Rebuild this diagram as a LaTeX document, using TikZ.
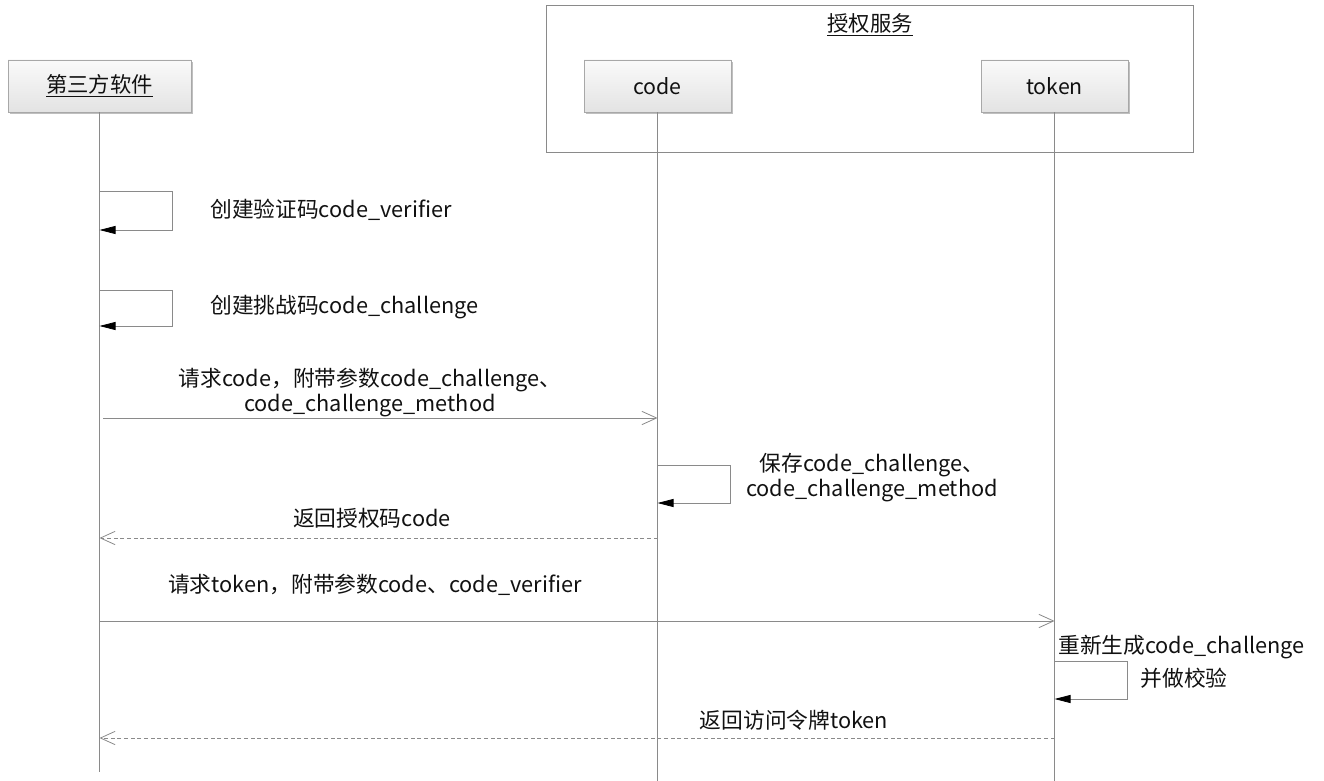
\documentclass[tikz,border=0pt]{standalone}
\usepackage{fontspec}
\setmainfont{Noto Sans CJK SC}
\usetikzlibrary{arrows.meta,shadows}
\definecolor{linegray}{HTML}{8A8A8A}
\definecolor{boxedge}{HTML}{A8A8A8}
\definecolor{txt}{HTML}{111111}
\begin{document}
\begin{tikzpicture}[x=0.75pt,y=-0.75pt,
  actor/.style={draw=boxedge, line width=0.6pt, top color=white!98!black, bottom color=white!89!black,
    minimum width=110.25pt, minimum height=39pt, inner sep=0pt, text=txt,
    drop shadow={shadow xshift=1.2pt, shadow yshift=-1.2pt, opacity=0.25, fill=black},
    font=\fontsize{16}{19}\selectfont},
  group/.style={draw=linegray, line width=0.6pt, minimum width=485.25pt, minimum height=110.25pt, inner sep=0pt},
  life/.style={draw=linegray, line width=0.6pt},
  msg/.style={draw=linegray, line width=0.6pt, -{Straight Barb[length=11pt,width=10pt,line width=0.6pt]}},
  reply/.style={msg, dash pattern=on 3pt off 2pt},
  selfmsg/.style={draw=linegray, line width=0.6pt, -{Triangle[length=12pt,width=6pt,color=black]}},
  lbl/.style={font=\fontsize{16.3}{18.75}\selectfont, text=txt, inner sep=0pt}
]
\useasboundingbox (0,0) rectangle (1324,781);

% participants
\node[group] (auth) at (869.5,78.5) {};
\node[lbl, font=\fontsize{16}{19}\selectfont] (authT) at (870,25) {\underline{授权服务}};
\node[actor, minimum width=137.25pt] (app) at (99.5,86) {\underline{第三方软件}};
\node[actor] (code) at (657.5,86) {code};
\node[actor] (token) at (1054.5,86) {token};

% lifelines
\coordinate (appEnd) at (99.5,772);
\coordinate (codeEnd) at (657.5,781);
\coordinate (tokenEnd) at (1054.5,781);
\draw[life] (app.south) -- (appEnd);
\draw[life] (code.south) -- (codeEnd);
\draw[life] (token.south) -- (tokenEnd);

% self call: create verifier
\coordinate (s1a) at (99.5,191);
\coordinate (s1b) at (99.5,230);
\draw[selfmsg] (s1a) -- ++(73,0) |- (s1b);
\node[lbl, anchor=west] (t1) at (210,210) {创建验证码code\_verifier};

% self call: create challenge
\coordinate (s2a) at (99.5,290);
\coordinate (s2b) at (99.5,326);
\draw[selfmsg] (s2a) -- ++(73,0) |- (s2b);
\node[lbl, anchor=west] (t2) at (210,307) {创建挑战码code\_challenge};

% request code
\coordinate (m3a) at (103,418);
\coordinate (m3b) at (657.5,418);
\draw[msg] (m3a) -- (m3b);
\node[lbl, align=center] (t3) at (370,393) {请求code，附带参数code\_challenge、\\code\_challenge\_method};

% save challenge
\coordinate (s4a) at (657.5,465);
\coordinate (s4b) at (657.5,503);
\draw[selfmsg] (s4a) -- ++(73,0) |- (s4b);
\node[lbl, align=center] (t4) at (872,478) {保存code\_challenge、\\code\_challenge\_method};

% return code
\coordinate (m5a) at (657.5,538);
\coordinate (m5b) at (99.5,538);
\draw[reply] (m5a) -- (m5b);
\node[lbl] (t5) at (372,518) {返回授权码code};

% request token
\coordinate (m6a) at (99.5,621);
\coordinate (m6b) at (1054.5,621);
\draw[msg] (m6a) -- (m6b);
\node[lbl] (t6) at (375,585) {请求token，附带参数code、code\_verifier};

% regenerate and verify
\coordinate (s7a) at (1054.5,661);
\coordinate (s7b) at (1054.5,699);
\draw[selfmsg] (s7a) -- ++(73,0) |- (s7b);
\node[lbl, anchor=west] (t7a) at (1058,647) {重新生成code\_challenge};
\node[lbl] (t7b) at (1184,678) {并做校验};

% return token
\coordinate (m8a) at (1054.5,738);
\coordinate (m8b) at (99.5,738);
\draw[reply] (m8a) -- (m8b);
\node[lbl] (t8) at (794,720) {返回访问令牌token};
\end{tikzpicture}
\end{document}
